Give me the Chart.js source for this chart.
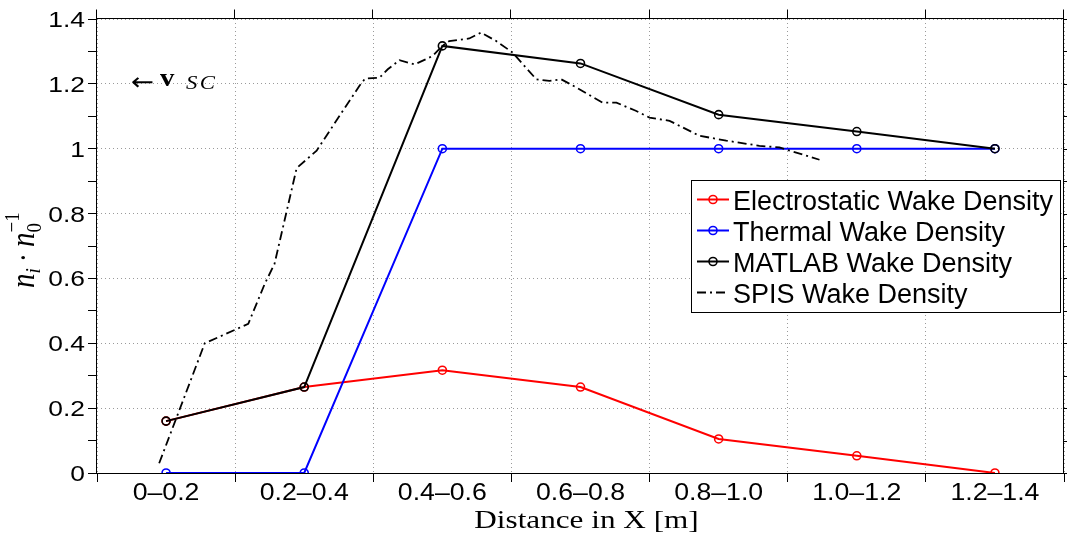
<!DOCTYPE html>
<html>
<head>
<meta charset="utf-8">
<title>Wake density</title>
<script src="https://cdn.jsdelivr.net/npm/chart.js@4.4.1/dist/chart.umd.min.js"></script>
<style>
    html, body { margin: 0; padding: 0; background: #fff; }
    #wake-chart { display: block; }
</style>
</head>
<body>
<canvas id="wake-chart" width="1067" height="535"></canvas>
<script>
// Distance bins along X [m] and the density ratio in each bin
const bins = ['0–0.2', '0.2–0.4', '0.4–0.6', '0.6–0.8', '0.8–1.0', '1.0–1.2', '1.2–1.4'];
const binCenters = [0.1, 0.3, 0.5, 0.7, 0.9, 1.1, 1.3];
const electrostatic = [0.16, 0.265, 0.317, 0.265, 0.105, 0.053, 0.0];
const thermal = [0, 0, 1, 1, 1, 1, 1];
const matlab = [0.16, 0.265, 1.317, 1.263, 1.105, 1.053, 1.0];

// SPIS profile (continuous along X)
const spisX = [0.09, 0.156, 0.219, 0.243, 0.257, 0.289, 0.318, 0.356, 0.38, 0.388, 0.409, 0.421,
               0.438, 0.46, 0.486, 0.5, 0.51, 0.539, 0.556, 0.578, 0.602, 0.636, 0.655, 0.672,
               0.694, 0.732, 0.752, 0.78, 0.8, 0.829, 0.872, 0.911, 0.959, 0.988, 1.046];
const spisY = [0.03, 0.40, 0.46, 0.584, 0.645, 0.94, 0.994, 1.117, 1.194, 1.216, 1.219, 1.245,
               1.273, 1.26, 1.286, 1.317, 1.332, 1.34, 1.358, 1.332, 1.296, 1.214, 1.209, 1.214,
               1.189, 1.142, 1.142, 1.117, 1.096, 1.086, 1.04, 1.025, 1.009, 1.004, 0.966];

// Axis ticks
const xTickValues = [0, 0.2, 0.4, 0.6, 0.8, 1.0, 1.2, 1.4];
const yTickValues = [0, 0.1, 0.2, 0.3, 0.4, 0.5, 0.6, 0.7, 0.8, 0.9, 1.0, 1.1, 1.2, 1.3, 1.4];
const yLabelValues = [0, 0.2, 0.4, 0.6, 0.8, 1, 1.2, 1.4];

const GRID = '#9a9a9a';
const SANS = '"Liberation Sans", Arial, sans-serif';
const SERIF = '"Liberation Serif", "Times New Roman", serif';

function toPoints(xs, ys) {
    return xs.map((x, i) => ({ x: x, y: ys[i] }));
}

function isMajor(v) {
    return Math.round(v * 10) % 2 === 0;
}

// fillText with a horizontal stretch, returns drawn width
function wideText(ctx, text, x, y, font, sx, align, baseline) {
    ctx.save();
    ctx.font = font;
    ctx.textAlign = align || 'left';
    ctx.textBaseline = baseline || 'alphabetic';
    ctx.fillStyle = '#000';
    ctx.translate(x, y);
    ctx.scale(sx, 1);
    ctx.fillText(text, 0, 0);
    const w = ctx.measureText(text).width * sx;
    ctx.restore();
    return w;
}

const marker = {
    pointStyle: 'circle',
    pointRadius: 4,
    pointBorderWidth: 1.6,
    pointBackgroundColor: 'rgba(0,0,0,0)',
    borderWidth: 2
};

// Frame, outer ticks, labels, annotation and legend in MATLAB style
const matlabDecor = {
    id: 'matlabDecor',
    afterDraw(chart) {
        const { ctx, chartArea: a, scales: { x, y } } = chart;
        const L = Math.round(a.left) - 0.5, R = Math.round(a.right) - 0.5;
        const T = Math.round(a.top) - 0.5, B = Math.round(a.bottom) + 0.5;

        ctx.save();
        ctx.strokeStyle = '#000';
        ctx.lineWidth = 1;
        ctx.strokeRect(L, T, R - L, B - T);

        // top and right tick marks
        ctx.beginPath();
        xTickValues.forEach(v => {
            const px = Math.round(x.getPixelForValue(v)) - 0.5;
            ctx.moveTo(px, T);
            ctx.lineTo(px, T - 9);
        });
        yTickValues.forEach(v => {
            const py = Math.round(y.getPixelForValue(v)) + 0.5;
            ctx.moveTo(R, py);
            ctx.lineTo(R + 9, py);
        });
        ctx.stroke();
        ctx.restore();

        // tick labels
        yLabelValues.forEach(v => {
            const txt = String(Number(v.toFixed(1)));
            wideText(ctx, txt, a.left - 12, y.getPixelForValue(v) + 2, '22px ' + SANS, 1.2, 'right', 'middle');
        });
        bins.forEach((b, i) => {
            wideText(ctx, b, x.getPixelForValue(binCenters[i]), 494, '23px ' + SANS, 1.16, 'center', 'middle');
        });

        // x axis title
        wideText(ctx, 'Distance in X [m]', (a.left + a.right) / 2 + 6, 528, '26px ' + SERIF, 1.2, 'center');

        // y axis title: n_i · n_0^-1, rotated
        ctx.save();
        ctx.translate(34, 243);
        ctx.rotate(-Math.PI / 2);
        ctx.scale(1, 1.15);
        ctx.fillStyle = '#000';
        ctx.textBaseline = 'alphabetic';
        const big = 'italic 29px ' + SERIF;
        const small = 'italic 19px ' + SERIF;
        const upright = '19px ' + SERIF;
        let cx = -45;
        ctx.font = big; ctx.fillText('n', cx, 0); cx += ctx.measureText('n').width;
        ctx.font = small; ctx.fillText('i', cx, 5); cx += ctx.measureText('i').width + 6;
        ctx.font = '28px ' + SERIF; ctx.fillText('·', cx, 0); cx += ctx.measureText('·').width + 6;
        ctx.font = big; ctx.fillText('n', cx, 0); cx += ctx.measureText('n').width;
        ctx.font = upright; ctx.fillText('0', cx, 6); ctx.fillText('−1', cx, -13);
        ctx.restore();

        // velocity direction annotation
        wideText(ctx, '←', 131, 90, '24px "DejaVu Sans", sans-serif', 1.15);
        wideText(ctx, 'v', 160, 86, 'bold 25px ' + SERIF, 1.15);
        ctx.save();
        ctx.letterSpacing = '2px';
        wideText(ctx, 'SC', 186, 89, 'italic 19px ' + SERIF, 1.2);
        ctx.restore();

        // legend
        const lx = 691.5, ly = 180.5, lw = 369, lh = 132;
        ctx.save();
        ctx.fillStyle = '#fff';
        ctx.fillRect(lx, ly, lw, lh);
        ctx.strokeStyle = '#000';
        ctx.lineWidth = 1;
        ctx.strokeRect(lx, ly, lw, lh);
        chart.data.datasets.forEach((ds, i) => {
            const ry = 199.5 + i * 31;
            ctx.strokeStyle = ds.borderColor;
            ctx.lineWidth = ds.borderWidth;
            ctx.setLineDash(ds.borderDash || []);
            ctx.beginPath();
            ctx.moveTo(697, ry);
            ctx.lineTo(729, ry);
            ctx.stroke();
            ctx.setLineDash([]);
            if (ds.pointRadius) {
                ctx.lineWidth = ds.pointBorderWidth;
                ctx.beginPath();
                ctx.arc(713, ry, ds.pointRadius, 0, Math.PI * 2);
                ctx.stroke();
            }
            ctx.fillStyle = '#000';
            ctx.font = '27px ' + SANS;
            ctx.textBaseline = 'alphabetic';
            ctx.fillText(ds.label, 733, ry + 10);
        });
        ctx.restore();
    }
};

new Chart(document.getElementById('wake-chart'), {
    type: 'line',
    data: {
        datasets: [
            {
                label: 'Electrostatic Wake Density',
                data: toPoints(binCenters, electrostatic),
                borderColor: '#ff0000',
                pointBorderColor: '#ff0000',
                order: 3,
                ...marker
            },
            {
                label: 'Thermal Wake Density',
                data: toPoints(binCenters, thermal),
                borderColor: '#0000ff',
                pointBorderColor: '#0000ff',
                order: 2,
                ...marker
            },
            {
                label: 'MATLAB Wake Density',
                data: toPoints(binCenters, matlab),
                borderColor: '#000000',
                pointBorderColor: '#000000',
                order: 1,
                ...marker
            },
            {
                label: 'SPIS Wake Density',
                data: toPoints(spisX, spisY),
                borderColor: '#000000',
                borderWidth: 1.8,
                borderDash: [9, 4, 2, 4],
                pointRadius: 0,
                order: 0
            }
        ]
    },
    options: {
        responsive: false,
        animation: false,
        devicePixelRatio: 1,
        layout: { autoPadding: false, padding: { top: 19, right: 3, left: 0, bottom: 0 } },
        plugins: {
            legend: { display: false },
            tooltip: { enabled: false }
        },
        scales: {
            x: {
                type: 'linear',
                min: 0,
                max: 1.4,
                afterFit: scale => { scale.height = 62; },
                afterBuildTicks: scale => { scale.ticks = xTickValues.map(v => ({ value: v })); },
                ticks: { display: false },
                grid: {
                    color: GRID,
                    lineWidth: 1,
                    drawTicks: true,
                    tickLength: 9,
                    tickColor: '#000',
                    tickWidth: 1,
                    tickBorderDash: []
                },
                border: { display: false, dash: [1, 3] }
            },
            y: {
                type: 'linear',
                min: 0,
                max: 1.4,
                afterFit: scale => { scale.width = 97; },
                afterBuildTicks: scale => { scale.ticks = yTickValues.map(v => ({ value: v })); },
                ticks: { display: false },
                grid: {
                    color: ctx => (ctx.tick && isMajor(ctx.tick.value)) ? GRID : 'rgba(0,0,0,0)',
                    lineWidth: 1,
                    drawTicks: true,
                    tickLength: 9,
                    tickColor: '#000',
                    tickWidth: 1,
                    tickBorderDash: []
                },
                border: { display: false, dash: [1, 3] }
            }
        }
    },
    plugins: [matlabDecor]
});
</script>
</body>
</html>
